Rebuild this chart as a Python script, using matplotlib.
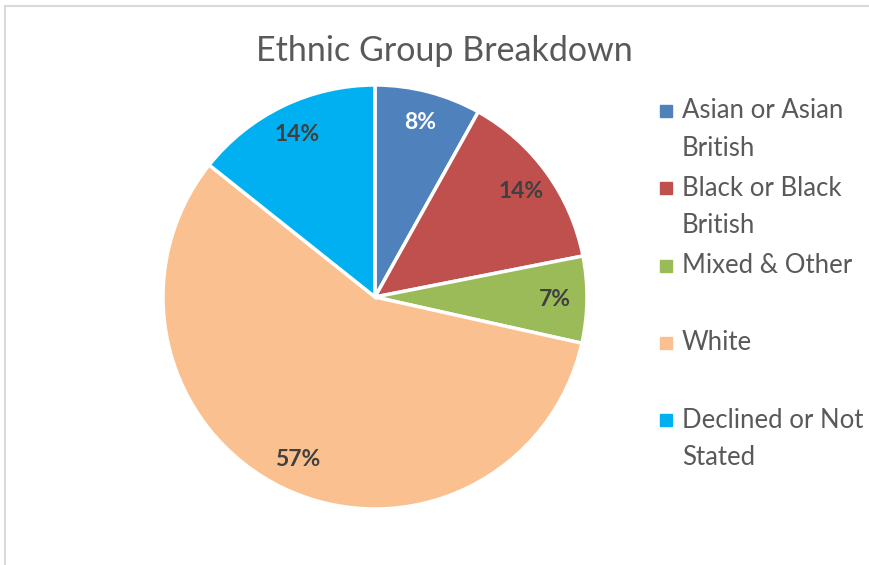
import matplotlib.pyplot as plt
from matplotlib.patches import Rectangle
from matplotlib.lines import Line2D

plt.rcParams['font.family'] = ['Lato', 'DejaVu Sans']

# data
groups = ["Asian or Asian\nBritish", "Black or Black\nBritish", "Mixed & Other",
          "White", "Declined or Not\nStated"]
shares = [8.1, 13.8, 6.6, 57.2, 14.3]
colors = ["#4f81bd", "#c0504d", "#9bbb59", "#fac090", "#00b0f0"]
label_colors = ["white", "#404040", "#404040", "#404040", "#404040"]

W, H = 870, 565
fig = plt.figure(figsize=(W / 100, H / 100), dpi=100)

# chart frame (light grey)
fig.add_artist(Line2D([5 / W, 1], [1 - 6 / H, 1 - 6 / H], color="#d9d9d9", lw=1.5))
fig.add_artist(Line2D([5 / W, 5 / W], [0, 1 - 6 / H], color="#d9d9d9", lw=1.5))

# pie: centre (375, 297), radius 212 px
cx, cy, r = 375, 297, 212
ax = fig.add_axes([(cx - r) / W, (H - cy - r) / H, 2 * r / W, 2 * r / H])
wedges, texts, autotexts = ax.pie(shares, colors=colors, startangle=90, counterclock=False,
                                  autopct='%.0f%%', pctdistance=0.85,
                                  wedgeprops=dict(edgecolor="white", linewidth=2.5))
for t, c in zip(autotexts, label_colors):
    t.set_color(c)
    t.set_fontsize(16.5)
    t.set_fontweight("bold")
ax.set_xlim(-1, 1)
ax.set_ylim(-1, 1)
ax.set_aspect("equal")

fig.text(444 / W, 1 - 51 / H, "Ethnic Group Breakdown", ha="center", va="center",
         fontsize=24.5, color="#595959")

# legend
for i, (g, c) in enumerate(zip(groups, colors)):
    y = 111 + i * 77.3
    fig.add_artist(Rectangle((660 / W, 1 - (y + 6) / H), 12 / W, 12 / H,
                             color=c, transform=fig.transFigure))
    for k, line in enumerate(g.split("\n")):
        fig.text(682 / W, 1 - (y + k * 37) / H, line, ha="left", va="center",
                 fontsize=18.5, color="#595959")

fig.savefig("out.png", dpi=100)
